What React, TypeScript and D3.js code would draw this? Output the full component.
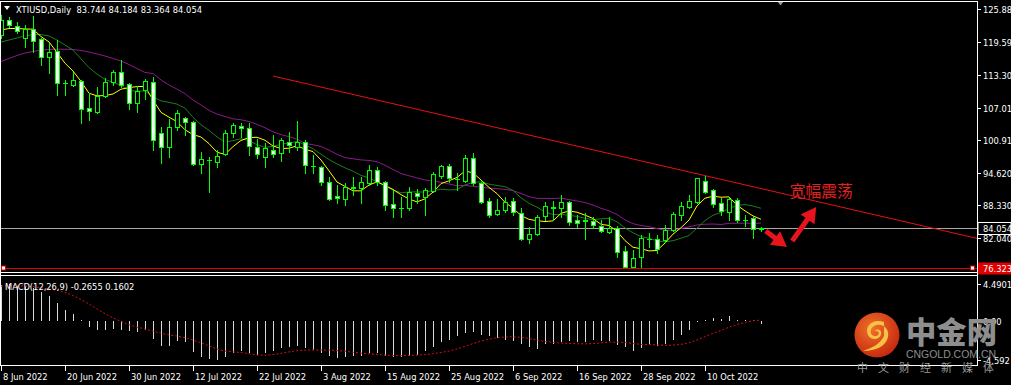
import React from 'react';
import * as d3 from 'd3';

// ---------- DATA (XTIUSD Daily, 8 Jun 2022 -> 19 Oct 2022) ----------
const opens = [120.91,123.78,122.63,120.34,122.06,120.14,116.70,117.85,111.80,111.35,112.11,106.95,106.19,109.24,111.92,113.83,111.54,107.91,110.39,111.92,102.17,99.51,103.32,105.04,104.28,96.24,97.10,96.62,98.15,102.17,103.51,103.13,99.55,97.58,98.92,98.35,100.45,99.49,100.45,95.95,95.67,92.80,90.12,89.55,91.84,91.65,92.61,95.09,92.80,88.59,87.90,87.83,90.70,89.93,91.08,93.95,95.86,93.45,92.99,97.39,92.61,89.17,86.68,87.45,89.17,86.93,81.90,82.80,86.30,88.08,87.77,89.04,85.54,85.45,85.40,84.39,83.30,84.01,79.61,76.61,78.40,81.95,81.90,81.71,83.62,86.49,88.08,89.04,93.05,91.27,88.73,87.12,89.36,85.60,85.86,83.744];
const highs = [124.73,124.35,123.45,122.82,124.54,120.30,119.38,119.95,112.31,113.83,112.31,109.82,110.97,112.69,114.22,116.13,111.73,111.16,112.50,112.88,103.32,104.85,106.57,105.23,104.50,98.54,97.58,98.92,102.74,104.08,104.08,104.08,101.02,100.26,101.79,101.21,102.36,104.47,100.83,97.96,95.80,93.76,92.23,92.61,93.76,93.76,96.05,95.67,93.00,91.27,89.93,91.84,91.46,91.65,94.71,96.05,96.24,94.52,97.96,98.35,92.80,89.74,89.55,89.99,89.74,87.83,84.20,86.49,89.04,89.23,90.32,89.17,86.49,86.87,86.11,85.54,86.11,84.39,80.56,79.80,82.67,83.05,82.67,84.58,87.12,89.04,90.32,93.62,93.95,91.40,89.80,89.68,89.68,86.49,86.17,84.184];
const lows = [120.34,122.44,121.29,118.61,117.66,115.17,113.64,109.44,109.44,111.20,104.08,104.66,106.00,109.05,111.35,110.97,106.76,106.19,108.67,98.92,96.43,97.58,102.74,101.79,96.05,94.52,90.89,95.67,97.96,101.41,101.41,97.96,97.39,95.67,97.58,96.82,98.54,98.92,94.52,94.52,92.23,89.36,88.79,88.40,90.32,88.79,92.23,92.23,87.45,86.11,86.11,87.45,88.79,86.49,90.89,93.57,92.80,91.27,92.80,92.23,88.79,86.11,86.49,87.12,86.49,81.71,81.19,82.67,85.54,85.54,86.17,84.58,84.26,81.90,84.01,83.30,83.11,78.40,76.323,76.40,76.61,80.43,79.17,81.38,83.49,85.54,87.77,88.73,90.64,88.08,86.40,85.54,85.21,84.39,82.15,83.364];
const closes = [123.78,122.82,121.73,122.06,119.76,116.70,117.66,111.73,111.70,112.31,106.76,106.38,109.24,111.92,113.83,111.35,107.91,110.20,112.11,100.83,99.51,103.32,105.99,104.28,96.24,97.19,97.00,97.77,102.17,103.70,103.13,99.69,98.10,99.32,98.15,100.83,99.88,100.45,96.05,95.86,92.80,89.55,89.74,91.84,91.65,92.80,95.09,92.80,88.40,87.83,87.80,90.89,90.12,91.27,94.33,95.86,93.57,93.38,97.39,92.61,88.98,86.49,87.45,89.02,87.12,81.85,82.86,86.17,88.21,87.77,89.04,85.10,85.02,85.40,84.58,83.43,84.01,79.48,76.49,78.21,82.04,81.90,79.94,83.62,86.68,88.21,89.17,93.51,90.95,88.59,87.26,89.49,85.54,85.54,83.76,84.054];

const ma5Head = [121.86,122.15,122.15,122.06];
const ma10Head = [119.57,119.95,120.34,120.72,121.00,121.00,120.72,119.95,118.99];
const ma20Head = [115.84,116.42,116.99,117.47,117.76,118.04,118.14,118.18,118.18,118.14,117.94,117.66,117.28,116.89,116.42,115.94,115.27,114.50,113.74];

// MACD(12,26,9) main values (histogram)
const macdMain = [4.40,4.49,4.26,4.26,3.98,3.59,3.07,2.19,1.39,0.88,0.20,-0.68,-1.08,-1.08,-0.92,-1.00,-1.20,-1.31,-1.08,-2.11,-2.91,-2.91,-2.39,-2.51,-3.71,-4.26,-4.55,-4.59,-4.26,-3.78,-3.59,-3.78,-3.98,-3.78,-3.59,-3.19,-3.07,-2.91,-3.19,-3.39,-3.78,-4.10,-4.38,-4.26,-4.18,-4.10,-3.78,-3.78,-4.10,-4.26,-4.26,-4.10,-3.98,-3.59,-3.07,-2.51,-2.19,-1.79,-1.39,-1.31,-1.59,-1.79,-1.99,-2.19,-2.39,-2.67,-3.07,-3.31,-2.67,-2.67,-2.51,-2.39,-2.51,-2.51,-2.27,-2.39,-2.39,-2.79,-3.07,-3.59,-3.19,-2.79,-2.91,-2.67,-2.27,-1.59,-1.00,-0.12,0.20,0.40,0.28,0.60,0.20,0.12,0.12,-0.2655];
const signalHead = [4.26,4.30,4.30,4.26,4.18,4.06,3.90,3.75];

const priceTicks = [125.88,119.59,113.30,107.01,100.91,94.62,88.33,82.04];
const priceTickLabels = ['125.88','119.59','113.30','107.01','100.91','94.620','88.330','82.040'];
const macdTicks = [4.4901,0,-4.592];
const macdTickLabels = ['4.4901','0.00','-4.592'];
const dateTickIndex = [0,8,16,24,32,40,48,56,64,72,80,88];
const dateTickLabels = ['8 Jun 2022','20 Jun 2022','30 Jun 2022','12 Jul 2022','22 Jul 2022','3 Aug 2022','15 Aug 2022','25 Aug 2022','6 Sep 2022','16 Sep 2022','28 Sep 2022','10 Oct 2022'];

const lastPrice = 84.054;
const supportPrice = 76.323;
const trendIndex = [34,120];
const trendPrice = [113.07,82.73];
const arrowDown = { from: [95.6, 83.43], to: [98.25, 80.37] };
const arrowUp = { from: [98.9, 81.52], to: [101.9, 88.02] };
const noteAnchor = [98.6, 89.93];
const noteText = '宽幅震荡';

// ---------- LAYOUT ----------
const W = 1011, H = 385;
const RIGHT = 977;
const FONT = '"DejaVu Sans", Tahoma, sans-serif';

function sma(period: number, head: number[], src: number[]) {
  return src.map((_, i) => {
    if (i < period - 1) return head[i];
    let s = 0;
    for (let k = i - period + 1; k <= i; k++) s += src[k];
    return s / period;
  });
}

function arrowPath(x1: number, y1: number, x2: number, y2: number, headLen = 15, headW = 17, shaftW = 5) {
  const dx = x2 - x1, dy = y2 - y1;
  const L = Math.hypot(dx, dy);
  const ux = dx / L, uy = dy / L;
  const px = -uy, py = ux;
  const bx = x2 - ux * headLen, by = y2 - uy * headLen;
  const pts = [
    [x1 + px * shaftW / 2, y1 + py * shaftW / 2],
    [bx + px * shaftW / 2, by + py * shaftW / 2],
    [bx + px * headW / 2, by + py * headW / 2],
    [x2, y2],
    [bx - px * headW / 2, by - py * headW / 2],
    [bx - px * shaftW / 2, by - py * shaftW / 2],
    [x1 - px * shaftW / 2, y1 - py * shaftW / 2],
  ];
  return 'M' + pts.map(p => p[0].toFixed(1) + ',' + p[1].toFixed(1)).join('L') + 'Z';
}

export default function App() {
  const x = d3.scaleLinear().domain([0, 95]).range([1, 761]);
  const y = d3.scaleLinear().domain([76.323, 125.88]).range([268.2, 9]);
  const ym = d3.scaleLinear().domain([-4.592, 4.4901]).range([359.6, 284.2]);

  const ma5 = sma(5, ma5Head, closes);
  const ma10 = sma(10, ma10Head, closes);
  const ma20 = sma(20, ma20Head, closes);
  const signal = sma(9, signalHead, macdMain);

  const line = d3.line<number>().x((_, i) => x(i)).y(d => y(d));
  const sigLine = d3.line<number>().x((_, i) => x(i)).y(d => ym(d));

  const GREEN = '#00ff00';

  const candles = closes.map((c, i) => {
    const o = opens[i];
    const cx = Math.round(x(i));
    const top = Math.round(y(Math.max(o, c)));
    const bot = Math.round(y(Math.min(o, c)));
    const hi = Math.round(y(highs[i]));
    const lo = Math.round(y(lows[i]));
    const bear = c < o;
    return (
      <g key={i}>
        <line x1={cx + 0.5} x2={cx + 0.5} y1={hi} y2={lo + 1} stroke={GREEN} strokeWidth={1} />
        {bot - top < 1 ? (
          <line x1={cx - 2} x2={cx + 3} y1={top + 0.5} y2={top + 0.5} stroke={GREEN} strokeWidth={1} />
        ) : (
          <rect x={cx - 1.5} y={top + 0.5} width={4} height={bot - top} fill={bear ? '#f2fff2' : '#000'} stroke={GREEN} strokeWidth={1} />
        )}
      </g>
    );
  });

  const zeroY = Math.round(ym(0));
  const hist = macdMain.map((v, i) => {
    const cx = Math.round(x(i)) + 0.5;
    return <line key={i} x1={cx} x2={cx} y1={zeroY} y2={Math.round(ym(v))} stroke="#d8d8d8" strokeWidth={1} />;
  });

  const trendX1 = x(trendIndex[0]), trendY1 = y(trendPrice[0]);
  const trendX2 = x(trendIndex[1]), trendY2 = y(trendPrice[1]);
  const slope = (trendY2 - trendY1) / (trendX2 - trendX1);
  const trendEndY = trendY1 + slope * (RIGHT - trendX1);

  const lastY = Math.round(y(lastPrice)) + 0.5;
  const supY = Math.round(y(supportPrice)) + 0.5;

  return (
    <svg width={W} height={H} style={{ position: 'absolute', left: 0, top: 0, display: 'block', background: '#000' }}>
      <defs>
        <radialGradient id="logoGrad" cx="40%" cy="35%" r="70%">
          <stop offset="0%" stopColor="#f0702a" />
          <stop offset="100%" stopColor="#c4260e" />
        </radialGradient>
        <clipPath id="mainClip"><rect x={1} y={2} width={RIGHT - 1} height={270} /></clipPath>
        <clipPath id="macdClip"><rect x={1} y={276} width={RIGHT - 1} height={89} /></clipPath>
      </defs>
      <rect x={0} y={0} width={W} height={H} fill="#000" />

      {/* main panel */}
      <g clipPath="url(#mainClip)">
        <line x1={0} x2={RIGHT} y1={lastY} y2={lastY} stroke="#a8a8a8" strokeWidth={1} />
        <line x1={trendX1} y1={trendY1} x2={RIGHT} y2={trendEndY} stroke="#e81010" strokeWidth={1} />
        <path d={line(ma20) || ''} fill="none" stroke="#8a1a8a" strokeWidth={1} />
        <path d={line(ma10) || ''} fill="none" stroke="#1f7a1f" strokeWidth={1} />
        <path d={line(ma5) || ''} fill="none" stroke="#ffff00" strokeWidth={1} />
        {candles}
        <line x1={0} x2={RIGHT} y1={supY} y2={supY} stroke="#e00000" strokeWidth={1} />
        <rect x={1.5} y={supY - 2.5} width={4} height={4} fill="#fff" stroke="#e00000" strokeWidth={1} />
        <rect x={RIGHT - 6.5} y={supY - 2.5} width={4} height={4} fill="#fff" stroke="#e00000" strokeWidth={1} />
        <path d={arrowPath(x(arrowDown.from[0]), y(arrowDown.from[1]), x(arrowDown.to[0]), y(arrowDown.to[1]))} fill="#e8141c" />
        <path d={arrowPath(x(arrowUp.from[0]), y(arrowUp.from[1]), x(arrowUp.to[0]), y(arrowUp.to[1]))} fill="#e8141c" />
        <text x={x(noteAnchor[0])} y={y(noteAnchor[1])} fill="#e42020" fontSize={16} fontFamily='"Noto Sans CJK SC", sans-serif' fontWeight={400} textLength={63} lengthAdjust="spacingAndGlyphs">{noteText}</text>
      </g>

      {/* header */}
      <path d="M4,6 L10,6 L7,10 Z" fill="#fff" />
      <text x={16} y={13} fill="#fff" fontSize={8.3} fontFamily={FONT} textLength={186} lengthAdjust="spacing" style={{ whiteSpace: 'pre' }}>XTIUSD,Daily  83.744 84.184 83.364 84.054</text>
      <path d="M777,1 L784,1 L780.5,5.5 Z" fill="#9a9a9a" />

      {/* MACD panel */}
      <g clipPath="url(#macdClip)">
        {hist}
        <path d={sigLine(signal) || ''} fill="none" stroke="#d01010" strokeWidth={1} strokeDasharray="2,2" />
      </g>
      <text x={5} y={290} fill="#fff" fontSize={8.3} fontFamily={FONT}>MACD(12,26,9) -0.2655 0.1602</text>

      {/* borders */}
      <line x1={0} x2={RIGHT} y1={1.5} y2={1.5} stroke="#fff" />
      <line x1={0.5} x2={0.5} y1={1} y2={366} stroke="#fff" />
      <line x1={RIGHT + 0.5} x2={RIGHT + 0.5} y1={1} y2={366} stroke="#fff" />
      <line x1={0} x2={RIGHT} y1={272.5} y2={272.5} stroke="#fff" />
      <line x1={0} x2={RIGHT} y1={275.5} y2={275.5} stroke="#fff" />
      <line x1={0} x2={RIGHT + 1} y1={365.5} y2={365.5} stroke="#fff" />

      {/* price axis */}
      {priceTicks.map((v, i) => {
        const ty = Math.round(y(v)) + 0.5;
        return (
          <g key={i}>
            <line x1={RIGHT} x2={RIGHT + 4} y1={ty} y2={ty} stroke="#fff" />
            <text x={RIGHT + 6} y={ty + 3} fill="#fff" fontSize={8.3} fontFamily={FONT}>{priceTickLabels[i]}</text>
          </g>
        );
      })}
      <rect x={RIGHT + 1} y={lastY - 6} width={W - RIGHT - 1} height={12} fill="#000" stroke="#fff" strokeWidth={1} />
      <text x={RIGHT + 6} y={lastY + 3} fill="#fff" fontSize={8.3} fontFamily={FONT}>{lastPrice.toFixed(3)}</text>
      <rect x={RIGHT + 1} y={supY - 6} width={W - RIGHT - 1} height={12} fill="#e00000" />
      <text x={RIGHT + 6} y={supY + 3} fill="#fff" fontSize={8.3} fontFamily={FONT}>{supportPrice.toFixed(3)}</text>

      {/* macd axis */}
      {macdTicks.map((v, i) => {
        const ty = Math.round(ym(v)) + 0.5;
        return (
          <g key={i}>
            <line x1={RIGHT} x2={RIGHT + 4} y1={ty} y2={ty} stroke="#fff" />
            <text x={RIGHT + 6} y={ty + 3} fill="#fff" fontSize={8.3} fontFamily={FONT}>{macdTickLabels[i]}</text>
          </g>
        );
      })}

      {/* time axis */}
      {dateTickIndex.map((idx, i) => {
        const tx = Math.round(x(idx)) + 0.5;
        return (
          <g key={i}>
            <line x1={tx} x2={tx} y1={366} y2={371} stroke="#fff" />
            <text x={tx + 1.5} y={379.5} fill="#fff" fontSize={8.3} fontFamily={FONT}>{dateTickLabels[i]}</text>
          </g>
        );
      })}

      {/* watermark */}
      <g>
        <circle cx={877} cy={335} r={22.5} fill="url(#logoGrad)" />
        <path d="M884,322 C873,318 864,326 868,335 C871,341 880,340 881,334 C882,330 877,328 875,331 C880,330 880,336 875,336 C870,336 869,329 874,326 C881,322 890,328 888,337 C886,346 876,351 863,351 C872,348 880,344 884,336 Z" fill="#f6c244" />
        <text x={906} y={343} fill="#8e8e8e" fontSize={30} fontWeight={900} fontFamily='"Noto Sans CJK SC", sans-serif' textLength={91} lengthAdjust="spacingAndGlyphs">中金网</text>
        <text x={906} y={357.5} fill="#8e8e8e" fontSize={10.5} fontFamily='"Liberation Sans", Arial, sans-serif' textLength={90} lengthAdjust="spacingAndGlyphs">CNGOLD.COM.CN</text>
        <text x={857} y={372} fill="#9a9a9a" fontSize={11} fontFamily='"Noto Sans CJK SC", sans-serif' textLength={137} lengthAdjust="spacing">中文财经新媒体</text>
      </g>
    </svg>
  );
}
